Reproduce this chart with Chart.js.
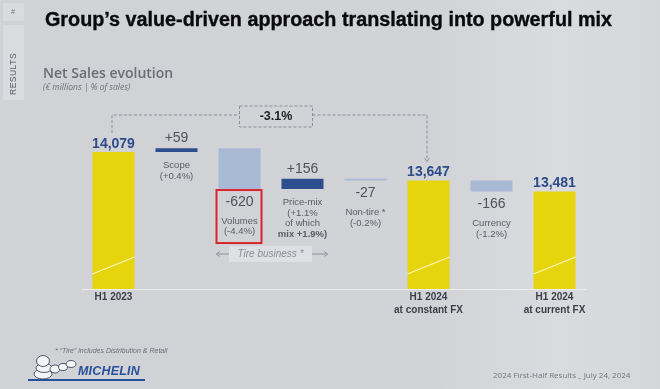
<!DOCTYPE html>
<html><head><meta charset="utf-8">
<script src="https://cdn.jsdelivr.net/npm/chart.js@4"></script>
<style>
html,body{margin:0;padding:0}
body{width:660px;height:389px;overflow:hidden;font-family:"Liberation Sans",Arial,sans-serif}
#wrap{position:relative;width:660px;height:389px;background:linear-gradient(90deg,#d0d2d6 0%,#d1d3d7 65%,#d9dbde 85%,#d4d6d9 100%)}
#c{position:absolute;left:0;top:0}
.t{position:absolute;white-space:nowrap;line-height:1}
#title{left:45px;top:10px;font-size:19.5px;font-weight:bold;color:#0a0a0c;transform-origin:0 0;-webkit-text-stroke:0.35px #0a0a0c}
#sub1{left:43px;top:66px;font-family:"Open Sans",sans-serif;font-size:14px;font-weight:600;color:#6a6d72}
#sub2{left:43px;top:83px;font-family:"Open Sans",sans-serif;font-size:8.5px;font-style:italic;color:#6d7075}
.side{position:absolute;left:2px;width:21px;background:#dadbde;border:1px solid #cfd1d4;border-radius:2px}
#rs{position:absolute;left:9px;top:95px;transform:rotate(-90deg);transform-origin:0 0;font-size:8.5px;color:#5a5d62;letter-spacing:0.5px}
#hash{left:11px;top:8px;font-size:7px;color:#777;font-style:italic}
#foot1{left:55px;top:347px;font-size:7px;font-style:italic;color:#6a6d72}
#foot2{left:493px;top:371px;font-family:"Open Sans",sans-serif;font-size:8px;color:#73767b}
#logo{left:78px;top:365px;font-size:12.5px;font-weight:bold;font-style:italic;color:#27509b;letter-spacing:0.2px}
#uline{position:absolute;left:28px;top:379px;width:117px;height:2px;background:#27509b}
</style></head>
<body><div id="wrap">
<canvas id="c" width="660" height="389"></canvas>
<div class="t" id="title">Group’s value-driven approach translating into powerful mix</div>
<div class="t" id="sub1">Net Sales evolution</div>
<div class="t" id="sub2">(€ millions | % of sales)</div>
<div class="side" style="top:2px;height:18px"></div>
<div class="t" id="hash">#</div>
<div class="side" style="top:24px;height:75px"></div>
<div class="t" id="rs">RESULTS</div>
<div class="t" id="foot1">* “Tire” includes Distribution &amp; Retail</div>
<svg style="position:absolute;left:30px;top:354px" width="50" height="28" viewBox="0 0 50 28">
 <g fill="#f4f5f6" stroke="#2a3550" stroke-width="0.8">
  <ellipse cx="13" cy="20" rx="9" ry="5"/>
  <ellipse cx="14" cy="14" rx="8" ry="4.5"/>
  <ellipse cx="13" cy="7" rx="6.5" ry="5.5"/>
  <ellipse cx="25" cy="15" rx="5" ry="4"/>
  <ellipse cx="33" cy="13" rx="4.5" ry="3.5"/>
  <ellipse cx="41" cy="10" rx="5" ry="3.5"/>
 </g>
</svg>
<div class="t" id="logo">MICHELIN</div>
<div id="uline"></div>
<div class="t" id="foot2">2024 First-Half Results _ July 24, 2024</div>
</div>
<script>
// ---- data ----
const categories = ['H1 2023', 'Scope', 'Volumes', 'Price-mix', 'Non-tire', 'H1 2024 constant FX', 'Currency', 'H1 2024 current FX'];
const tickLabels = [['H1 2023'], '', '', '', '', ['H1 2024', 'at constant FX'], '', ['H1 2024', 'at current FX']];
const totals = [14079, null, null, null, null, 13647, null, 13481];
const deltas = [null, 59, -620, 156, -27, null, -166, null];
const valueLabels = ['14,079', '+59', '-620', '+156', '-27', '13,647', '-166', '13,481'];
const descLabels = [[], ['Scope', '(+0.4%)'], ['Volumes', '(-4.4%)'], ['Price-mix', '(+1.1%', 'of which', 'mix +1.9%)'], ['Non-tire *', '(-0.2%)'], [], ['Currency', '(-1.2%)'], []];
const growthLabel = '-3.1%';
const tireLabel = 'Tire business *';
const axisMin = 12000, axisMax = 14870;

// ---- build floating ranges ----
const YEL = '#e6d40d', DARK = '#2d4f8e', LIGHT = '#a8b9d5';
let run = 0;
const ranges = [], colors = [];
for (let i = 0; i < categories.length; i++) {
  if (totals[i] != null) { run = totals[i]; ranges.push([axisMin, totals[i]]); colors.push(YEL); }
  else { const s = run; run += deltas[i]; ranges.push([s, run]); colors.push(deltas[i] > 0 ? DARK : LIGHT); }
}

const valuePos = ['above', 'above', 'below', 'above', 'below', 'above', 'below', 'above'];

function arrowHead(ctx, x, y, dir, s) {
  ctx.beginPath();
  if (dir === 'down') { ctx.moveTo(x - s, y - s * 1.3); ctx.lineTo(x, y); ctx.lineTo(x + s, y - s * 1.3); }
  if (dir === 'left') { ctx.moveTo(x + s * 1.3, y - s); ctx.lineTo(x, y); ctx.lineTo(x + s * 1.3, y + s); }
  if (dir === 'right') { ctx.moveTo(x - s * 1.3, y - s); ctx.lineTo(x, y); ctx.lineTo(x - s * 1.3, y + s); }
  ctx.stroke();
}

const deco = {
  id: 'deco',
  afterDatasetsDraw(chart) {
    const ctx = chart.ctx;
    const els = chart.getDatasetMeta(0).data;
    ctx.save();
    els.forEach((el, i) => {
      const top = Math.min(el.y, el.base), bot = Math.max(el.y, el.base);
      const left = el.x - el.width / 2, right = el.x + el.width / 2;
      ctx.textAlign = 'center'; ctx.textBaseline = 'middle';
      if (totals[i] != null) {
        ctx.strokeStyle = 'rgba(255,248,200,0.95)'; ctx.lineWidth = 1.2;
        ctx.beginPath(); ctx.moveTo(left, bot - 15); ctx.lineTo(right, bot - 32); ctx.stroke();
        ctx.fillStyle = '#2d4b88'; ctx.font = 'bold 14px "Liberation Sans", Arial';
        ctx.fillText(valueLabels[i], el.x, top - 8);
      } else {
        ctx.fillStyle = '#4f5257'; ctx.font = '14px "Liberation Sans", Arial';
        let vy, dy;
        if (valuePos[i] === 'above') { vy = top - 10; dy = bot + 13.5; }
        else { vy = bot + 13; dy = vy + 19; }
        ctx.fillText(valueLabels[i], el.x, vy);
        ctx.fillStyle = '#595c61'; ctx.font = '9.5px "Liberation Sans", Arial';
        descLabels[i].forEach((line, k) => {
          if (line.startsWith('mix ')) {
            ctx.font = 'bold 9.5px "Liberation Sans", Arial';
            ctx.fillText(line, el.x, dy + k * 10.5);
            ctx.font = '9.5px "Liberation Sans", Arial';
          } else ctx.fillText(line, el.x, dy + k * 10.5);
        });
      }
    });
    // red box around Volumes
    const v = els[2], vb = Math.max(v.y, v.base);
    ctx.strokeStyle = '#d9262e'; ctx.lineWidth = 2;
    ctx.strokeRect(v.x - 23, vb + 1, 45, 53);
    // Tire business arrow
    const p = els[3];
    const ax1 = v.x - v.width / 2 - 2, ax2 = p.x + p.width / 2 + 4, ay = vb + 65;
    ctx.strokeStyle = '#8f9297'; ctx.lineWidth = 1;
    ctx.beginPath(); ctx.moveTo(ax1, ay); ctx.lineTo(ax2, ay); ctx.stroke();
    arrowHead(ctx, ax1, ay, 'left', 2.5); arrowHead(ctx, ax2, ay, 'right', 2.5);
    const bc = (ax1 + ax2) / 2 - 1.5;
    ctx.fillStyle = '#dee1e4'; ctx.fillRect(bc - 41.5, ay - 8, 83, 16);
    ctx.fillStyle = '#8a8d92'; ctx.font = 'italic 10px "Liberation Sans", Arial';
    ctx.fillText(tireLabel, bc, ay);
    // dashed bracket
    const a = els[0], b = els[5];
    const aTop = Math.min(a.y, a.base), bTop = Math.min(b.y, b.base);
    const hy = 115;
    const boxC = (els[2].x + els[3].x) / 2 + 5, bw = 73, bh = 21;
    ctx.strokeStyle = '#8b8e93'; ctx.lineWidth = 1; ctx.setLineDash([3, 2]);
    ctx.beginPath();
    ctx.moveTo(a.x - 1.5, aTop - 19); ctx.lineTo(a.x - 1.5, hy); ctx.lineTo(boxC - bw / 2, hy);
    ctx.moveTo(boxC + bw / 2, hy); ctx.lineTo(b.x - 1.5, hy); ctx.lineTo(b.x - 1.5, bTop - 20);
    ctx.stroke();
    ctx.strokeRect(boxC - bw / 2, hy - 9, bw, bh);
    ctx.setLineDash([]);
    arrowHead(ctx, b.x - 1.5, bTop - 19, 'down', 2.5);
    ctx.fillStyle = '#1d1e21'; ctx.font = 'bold 12.5px "Liberation Sans", Arial';
    ctx.fillText(growthLabel, boxC, hy + 1.5);
    ctx.restore();
  }
};

new Chart(document.getElementById('c'), {
  type: 'bar',
  data: {
    labels: tickLabels,
    datasets: [{ data: ranges, backgroundColor: colors, borderSkipped: false, borderWidth: 0, barPercentage: 0.667, categoryPercentage: 1 }]
  },
  options: {
    responsive: false, animation: false,
    layout: { padding: { left: 82, right: 74, top: 100, bottom: 60 } },
    plugins: { legend: { display: false }, tooltip: { enabled: false } },
    scales: {
      x: {
        grid: { display: false, drawTicks: false },
        border: { display: true, color: 'rgba(236,238,240,0.95)', width: 1 },
        ticks: { color: '#3b3e45', font: { family: '"Liberation Sans", Arial', size: 10, weight: 'bold', lineHeight: 1.25 }, padding: 2, maxRotation: 0, autoSkip: false },
        afterFit(s) { s.height = 40; }
      },
      y: { display: false, min: axisMin, max: axisMax }
    }
  },
  plugins: [deco]
});

// fit title width to reference
const t = document.getElementById('title');
const w = t.getBoundingClientRect().width;
t.style.transform = 'scaleX(' + (567 / w) + ')';
</script>
</body></html>
